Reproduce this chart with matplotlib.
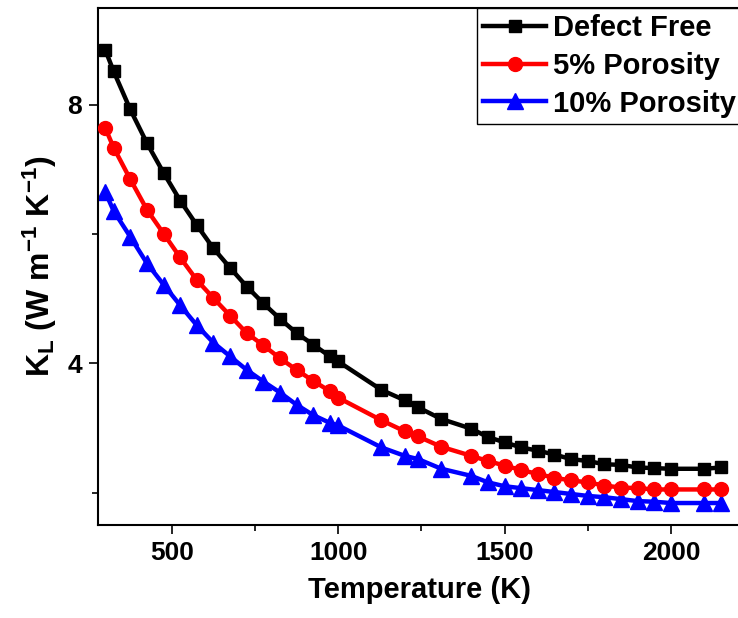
import matplotlib
matplotlib.use("Agg")
import matplotlib.pyplot as plt
from matplotlib.ticker import MultipleLocator

plt.rcParams['font.family'] = ['Liberation Sans', 'DejaVu Sans']
plt.rcParams['font.weight'] = 'bold'
plt.rcParams['mathtext.default'] = 'regular'

# Temperature points (K)
temperature = [300, 325, 375, 425, 475, 525, 575, 625, 675, 725, 775, 825, 875, 925, 975, 1000,
               1130, 1200, 1240, 1310, 1400, 1450, 1500, 1550, 1600, 1650, 1700, 1750, 1800,
               1850, 1900, 1950, 2000, 2100, 2150]

# Lattice thermal conductivity (W m^-1 K^-1)
kl_defect_free = [8.85, 8.52, 7.93, 7.41, 6.95, 6.52, 6.14, 5.78, 5.48, 5.19, 4.93, 4.69, 4.47, 4.29, 4.11, 4.03,
                  3.59, 3.43, 3.32, 3.14, 2.99, 2.86, 2.78, 2.70, 2.65, 2.59, 2.52, 2.49, 2.44,
                  2.43, 2.39, 2.38, 2.37, 2.37, 2.39]
kl_5_porosity = [7.64, 7.34, 6.85, 6.38, 6.01, 5.64, 5.29, 5.01, 4.74, 4.47, 4.28, 4.08, 3.90, 3.73, 3.57, 3.47,
                 3.12, 2.95, 2.87, 2.71, 2.57, 2.49, 2.42, 2.35, 2.29, 2.23, 2.19, 2.16, 2.11,
                 2.08, 2.07, 2.05, 2.05, 2.05, 2.05]
kl_10_porosity = [6.65, 6.36, 5.96, 5.55, 5.22, 4.90, 4.59, 4.32, 4.11, 3.90, 3.72, 3.55, 3.36, 3.20, 3.08, 3.04,
                  2.70, 2.57, 2.52, 2.37, 2.26, 2.16, 2.10, 2.07, 2.04, 2.01, 1.98, 1.95, 1.93,
                  1.90, 1.87, 1.86, 1.84, 1.84, 1.84]

W, H = 738, 618
fig = plt.figure(figsize=(W / 100, H / 100), dpi=100)
# right edge of the frame falls just outside the picture, as in the original crop
ax = fig.add_axes([98 / W, 1 - 525 / H, 644 / W, (525 - 8) / H])

ax.plot(temperature, kl_10_porosity, color='blue', lw=3.2, marker='^', ms=11, label='10% Porosity', zorder=2)
ax.plot(temperature, kl_5_porosity, color='red', lw=3.2, marker='o', ms=10, label='5% Porosity', zorder=3)
ax.plot(temperature, kl_defect_free, color='black', lw=3.2, marker='s', ms=9, label='Defect Free', zorder=4)

ax.set_xlim(278, 278 + 644 / 0.3327)
ax.set_ylim(1.5, 9.5)
ax.xaxis.set_major_locator(MultipleLocator(500))
ax.xaxis.set_minor_locator(MultipleLocator(250))
ax.yaxis.set_major_locator(MultipleLocator(4))
ax.yaxis.set_minor_locator(MultipleLocator(2))

ax.tick_params(which='major', direction='out', length=6.5, width=1.2, labelsize=19, pad=5)
ax.tick_params(which='minor', direction='out', length=4, width=1.2)
for s in ax.spines.values():
    s.set_linewidth(1.5)

ax.set_xlabel('Temperature (K)', fontsize=21, fontweight='bold', labelpad=8)
ax.set_ylabel('K$_L$ (W m$^{-1}$ K$^{-1}$)', fontsize=23, fontweight='bold', labelpad=6)

handles, labels = ax.get_legend_handles_labels()
leg = ax.legend(handles[::-1], labels[::-1], loc='upper right', fontsize=21, frameon=True,
                fancybox=False, edgecolor='black', framealpha=1, borderaxespad=0,
                handlelength=2.15, handletextpad=0.25, labelspacing=0.34, borderpad=0.2)
leg.get_frame().set_linewidth(1.0)

fig.savefig('out.png', dpi=100)
